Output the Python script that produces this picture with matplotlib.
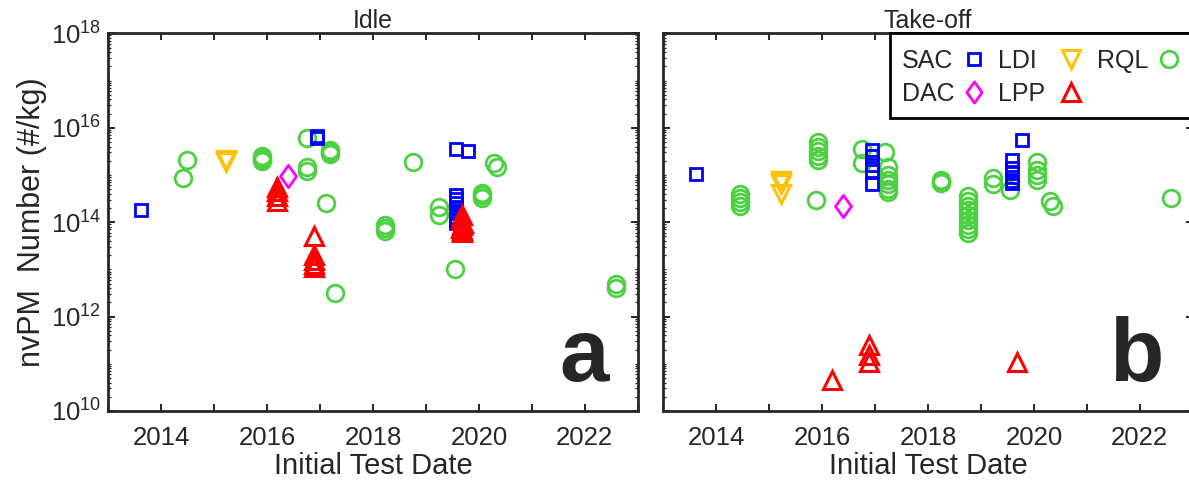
import matplotlib
matplotlib.use("Agg")
import matplotlib.pyplot as plt
from matplotlib.lines import Line2D
from matplotlib.patches import Rectangle
from matplotlib.path import Path
from matplotlib.ticker import LogLocator, FixedLocator, FuncFormatter, NullFormatter
import numpy as np

plt.rcParams['font.family'] = ['Liberation Sans', 'DejaVu Sans']
plt.rcParams['mathtext.fontset'] = 'custom'
plt.rcParams['mathtext.rm'] = 'Liberation Sans'

# ---------------- data (decimal year, nvPM number #/kg) ----------------
# Idle
idle_sac_x = [2013.62, 2016.94, 2016.94, 2019.57, 2019.79,
              2019.57, 2019.57, 2019.57, 2019.57, 2019.57, 2019.57, 2019.57, 2019.57]
idle_sac_y = [1.8e14, 6.6e15, 6.2e15, 3.6e15, 3.2e15,
              3.7e14, 3.1e14, 2.5e14, 2.0e14, 1.6e14, 1.3e14, 1.1e14, 9.5e13]
idle_dac_x = [2016.39]
idle_dac_y = [9.6e14]
idle_ldi_x = [2015.22, 2015.22]
idle_ldi_y = [2.1e15, 1.9e15]
idle_lpp_x = [2016.18, 2016.18, 2016.18, 2016.18,
              2016.89, 2016.89, 2016.89, 2016.89, 2016.89,
              2019.68, 2019.66, 2019.70, 2019.68, 2019.67, 2019.69, 2019.68]
idle_lpp_y = [5.6e14, 4.5e14, 3.5e14, 2.8e14,
              5.1e13, 2.0e13, 1.6e13, 1.3e13, 1.1e13,
              1.4e14, 1.1e14, 9.5e13, 8.5e13, 7.5e13, 6.8e13, 6.2e13]
idle_rql_x = [2014.49, 2014.41, 2015.90, 2015.90, 2015.90, 2015.90,
              2016.75, 2016.75, 2016.76, 2017.19, 2017.19, 2017.19,
              2017.11, 2017.29, 2018.76, 2020.29, 2020.34,
              2020.05, 2020.05, 2020.05, 2019.25, 2019.25,
              2018.23, 2018.23, 2018.23, 2019.54, 2022.59, 2022.59]
idle_rql_y = [2.1e15, 8.5e14, 2.3e15, 2.1e15, 2.5e15, 2.0e15,
              1.45e15, 1.2e15, 6.1e15, 3.4e15, 3.1e15, 2.8e15,
              2.6e14, 3.1e12, 1.9e15, 1.75e15, 1.45e15,
              4.1e14, 3.7e14, 3.3e14, 2.1e14, 1.4e14,
              8.7e13, 7.4e13, 6.5e13, 1.0e13, 5.0e12, 4.0e12]

# Take-off
to_sac_x = [2013.62, 2016.95, 2016.95, 2016.95, 2016.95, 2016.95,
            2019.59, 2019.59, 2019.59, 2019.59, 2019.59, 2019.59, 2019.78]
to_sac_y = [1.05e15, 3.4e15, 2.5e15, 1.65e15, 1.2e15, 6.5e14,
            2.1e15, 1.4e15, 1.1e15, 9.0e14, 7.5e14, 6.8e14, 5.4e15]
to_dac_x = [2016.40]
to_dac_y = [2.2e14]
to_ldi_x = [2015.22, 2015.22, 2015.22]
to_ldi_y = [7.4e14, 6.5e14, 3.9e14]
to_lpp_x = [2016.18, 2016.89, 2016.89, 2016.89, 2019.68]
to_lpp_y = [4.6e10, 2.5e11, 1.55e11, 1.1e11, 1.1e11]
to_rql_x = [2014.45, 2014.45, 2014.45, 2014.45, 2015.88,
            2015.92, 2015.92, 2015.92, 2015.92, 2015.92,
            2016.75, 2016.75,
            2017.19, 2017.24, 2017.24, 2017.24, 2017.24, 2017.24, 2017.24,
            2018.24, 2018.24, 2018.24,
            2018.76, 2018.76, 2018.76, 2018.76, 2018.76, 2018.76, 2018.76, 2018.76, 2018.76,
            2019.23, 2019.23, 2019.55,
            2020.05, 2020.05, 2020.05, 2020.05, 2020.30, 2020.36, 2022.59]
to_rql_y = [3.9e14, 3.2e14, 2.7e14, 2.2e14, 2.95e14,
            5.0e15, 4.0e15, 3.2e15, 2.5e15, 2.1e15,
            3.5e15, 1.8e15,
            3.0e15, 1.5e15, 1.0e15, 8.0e14, 6.3e14, 5.0e14, 4.3e14,
            8.0e14, 7.0e14, 6.6e14,
            3.5e14, 2.8e14, 2.2e14, 1.8e14, 1.4e14, 1.1e14, 8.9e13, 7.1e13, 6.0e13,
            8.7e14, 6.3e14, 4.9e14,
            1.9e15, 1.26e15, 1.0e15, 8.0e14, 2.75e14, 2.2e14, 3.2e14]

panel_titles = ["Idle", "Take-off"]
panel_letters = ["a", "b"]
year_ticks = [2013, 2014, 2015, 2016, 2017, 2018, 2019, 2020, 2021, 2022, 2023]
legend_order = [['SAC', 'DAC'], ['LDI', 'LPP'], ['RQL']]

# ---------------- style ----------------
C_SAC = '#0000FF'
C_DAC = '#FF00FF'
C_LDI = '#FFC000'
C_LPP = '#FF0000'
C_RQL = '#4DD042'
TXT = '#262626'

diamond = Path([(0, 1), (0.72, 0), (0, -1), (-0.72, 0), (0, 1)],
               [Path.MOVETO, Path.LINETO, Path.LINETO, Path.LINETO, Path.CLOSEPOLY])

styles = {
    'SAC': dict(marker='s', color=C_SAC, ms=8.5, mew=2.0),
    'DAC': dict(marker=diamond, color=C_DAC, ms=16, mew=2.0),
    'LDI': dict(marker='v', color=C_LDI, ms=12.5, mew=2.2),
    'LPP': dict(marker='^', color=C_LPP, ms=12.5, mew=2.2),
    'RQL': dict(marker='o', color=C_RQL, ms=12, mew=2.0),
}

W, H = 1189, 491
fig = plt.figure(figsize=(W / 100, H / 100), dpi=100)
ax_l = fig.add_axes([108.3 / W, 80 / H, 529.4 / W, 377.7 / H])
ax_r = fig.add_axes([663.3 / W, 80 / H, 529.4 / W, 377.7 / H])

panels = [
    (ax_l, dict(SAC=(idle_sac_x, idle_sac_y), DAC=(idle_dac_x, idle_dac_y),
                LDI=(idle_ldi_x, idle_ldi_y), LPP=(idle_lpp_x, idle_lpp_y),
                RQL=(idle_rql_x, idle_rql_y))),
    (ax_r, dict(SAC=(to_sac_x, to_sac_y), DAC=(to_dac_x, to_dac_y),
                LDI=(to_ldi_x, to_ldi_y), LPP=(to_lpp_x, to_lpp_y),
                RQL=(to_rql_x, to_rql_y))),
]


def xfmt(v, p):
    y = int(round(v))
    return str(y) if (y % 2 == 0 and 2013 < y < 2023) else ""


for i, (ax, dat) in enumerate(panels):
    for key in ['RQL', 'SAC', 'DAC', 'LDI', 'LPP']:
        xs, ys = dat[key]
        st = styles[key]
        ax.plot(xs, ys, linestyle='none', marker=st['marker'], ms=st['ms'],
                mfc='none', mec=st['color'], mew=st['mew'])
    ax.set_yscale('log')
    ax.set_ylim(1e10, 1e18)
    ax.set_xlim(2013, 2023)
    ax.yaxis.set_major_locator(FixedLocator([1e10, 1e12, 1e14, 1e16, 1e18]))
    ax.yaxis.set_major_formatter(FuncFormatter(
        lambda v, p: r'$\mathdefault{10^{%d}}$' % int(round(np.log10(v)))))
    ax.yaxis.set_minor_locator(LogLocator(base=10, subs=np.arange(1, 10), numticks=100))
    ax.yaxis.set_minor_formatter(NullFormatter())
    ax.xaxis.set_major_locator(FixedLocator(year_ticks))
    ax.xaxis.set_major_formatter(FuncFormatter(xfmt))
    ax.tick_params(which='both', direction='in', top=True, right=True, colors=TXT,
                   labelsize=18.5, labelcolor=TXT)
    ax.tick_params(which='major', length=5, width=1.4)
    ax.tick_params(which='minor', length=2.5, width=0.9)
    ax.tick_params(axis='x', which='major', pad=11)
    ax.tick_params(axis='y', which='major', pad=5)
    for sp in ax.spines.values():
        sp.set_linewidth(2.0)
        sp.set_color(TXT)
    ax.set_title(panel_titles[i], fontsize=18, color=TXT, pad=3)
    ax.set_xlabel('Initial Test Date', fontsize=21, color=TXT, labelpad=1)
    ax.text(1 - 29 / 529.4, 30 / 377.7, panel_letters[i], transform=ax.transAxes,
            ha='right', va='baseline', fontsize=64, fontweight='bold', color=TXT)
    if i == 1:
        ax.tick_params(which='both', labelleft=False)
    else:
        ax.set_ylabel('nvPM  Number (#/kg)', fontsize=22, color=TXT, labelpad=3)

# ---------------- legend (drawn in figure pixel layout) ----------------
def fx(px):
    return px / W


def fy(py):
    return 1 - py / H


fig.add_artist(Rectangle((fx(890), fy(118.3)), fx(1300) - fx(890), fy(33.3) - fy(118.3),
                         transform=fig.transFigure, fill=True, facecolor='white',
                         edgecolor='black', linewidth=2.0, zorder=5))
col_text_x = [901.7, 998.3, 1096.7]
col_mark_x = [973.8, 1070.7, 1169.3]
row_base_y = [68.3, 101.3]
row_mark_y = [59.3, 92.3]
legend_ms_scale = {'SAC': 1.1, 'DAC': 0.95, 'LDI': 1.0, 'LPP': 1.0, 'RQL': 1.0}
for c, keys in enumerate(legend_order):
    for r, key in enumerate(keys):
        fig.text(fx(col_text_x[c]), fy(row_base_y[r]), key, fontsize=18, color=TXT,
                 ha='left', va='baseline', zorder=6)
        st = styles[key]
        fig.add_artist(Line2D([fx(col_mark_x[c])], [fy(row_mark_y[r])],
                              transform=fig.transFigure, linestyle='none',
                              marker=st['marker'], ms=st['ms'] * legend_ms_scale[key],
                              mfc='none', mec=st['color'], mew=st['mew'], zorder=6))

fig.savefig('out.png', dpi=100)
